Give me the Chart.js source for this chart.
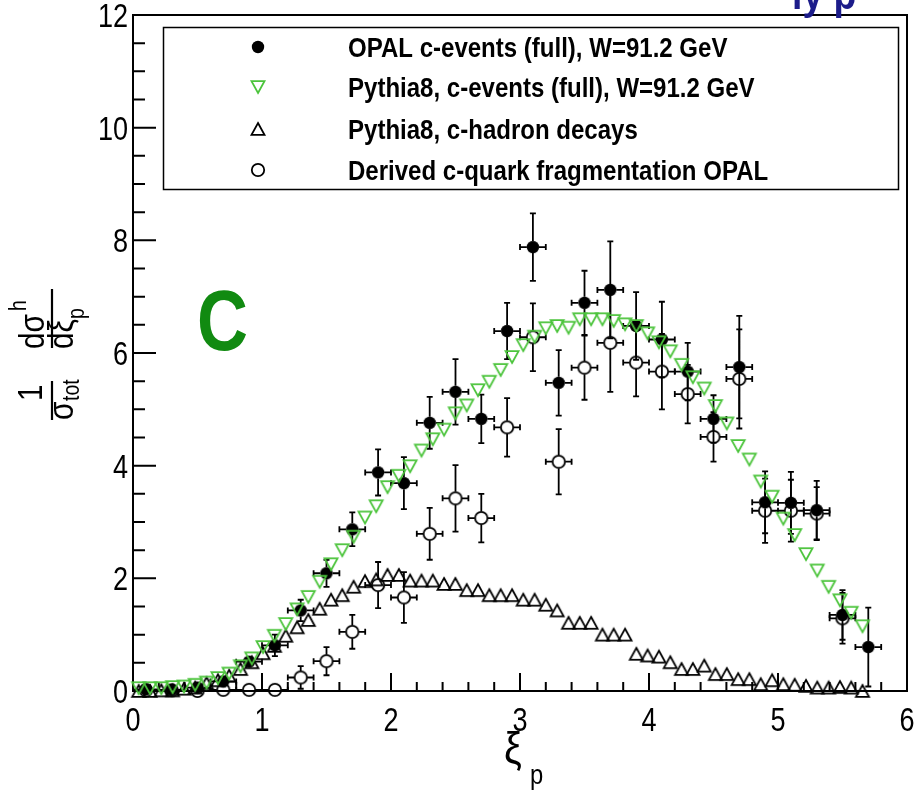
<!DOCTYPE html>
<html><head><meta charset="utf-8">
<script src="https://cdn.jsdelivr.net/npm/chart.js@4/dist/chart.umd.min.js"></script>
<style>html,body{margin:0;padding:0;background:#fff;overflow:hidden}</style>
</head><body>
<canvas id="c" width="922" height="793"></canvas>
<script>
// ---------------- data ----------------
const opalX   = [0.1,0.3,0.5,0.7,0.9,1.1,1.3,1.5,1.7,1.9,2.1,2.3,2.5,2.7,2.9,3.1,3.3,3.5,3.7,3.9,4.1,4.3,4.5,4.7,4.9,5.1,5.3,5.5,5.7];
const opalY   = [0.03,0.02,0.06,0.17,0.52,0.81,1.43,2.09,2.87,3.88,3.69,4.76,5.31,4.83,6.39,7.88,5.47,6.89,7.12,6.48,6.24,5.67,4.83,5.75,3.35,3.34,3.21,1.35,0.78];
const opalErr = [0.08,0.05,0.05,0.06,0.10,0.19,0.19,0.24,0.30,0.41,0.46,0.46,0.58,0.43,0.50,0.60,0.58,0.57,0.86,0.60,0.67,0.51,0.42,0.91,0.55,0.55,0.52,0.44,0.70];
const derivedX   = [0.1,0.3,0.5,0.7,0.9,1.1,1.3,1.5,1.7,1.9,2.1,2.3,2.5,2.7,2.9,3.1,3.3,3.5,3.7,3.9,4.1,4.3,4.5,4.7,4.9,5.1,5.3,5.5];
const derivedY   = [0.01,0.01,0.00,0.02,0.02,0.02,0.24,0.53,1.05,1.88,1.66,2.79,3.42,3.07,4.68,6.28,4.07,5.74,6.18,5.83,5.67,5.27,4.51,5.54,3.20,3.20,3.15,1.29];
const derivedErr = [0.02,0.02,0.03,0.04,0.05,0.06,0.20,0.25,0.30,0.41,0.45,0.46,0.59,0.43,0.52,0.60,0.58,0.57,0.87,0.60,0.67,0.52,0.44,0.88,0.57,0.55,0.47,0.45];
const xHalfWidth = 0.1;
const pythiaX = [0.044,0.132,0.219,0.307,0.395,0.482,0.570,0.658,0.745,0.833,
  0.921,1.008,1.096,1.184,1.272,1.359,1.447,1.535,1.622,1.710,
  1.798,1.885,1.973,2.061,2.148,2.236,2.324,2.411,2.499,2.587,
  2.674,2.762,2.850,2.938,3.025,3.113,3.200,3.288,3.376,3.463,
  3.551,3.639,3.726,3.814,3.902,3.989,4.077,4.165,4.252,4.340,
  4.428,4.515,4.603,4.691,4.778,4.866,4.954,5.041,5.129,5.217,
  5.304,5.392,5.480,5.567,5.655];
const pythiaFullY = [0.05,0.05,0.05,0.07,0.08,0.11,0.15,0.23,0.31,0.44,
  0.58,0.78,0.98,1.19,1.45,1.67,1.94,2.25,2.50,2.74,
  3.08,3.28,3.62,3.82,3.99,4.27,4.47,4.64,4.93,5.07,
  5.34,5.49,5.70,5.93,6.14,6.29,6.44,6.48,6.45,6.60,
  6.60,6.60,6.57,6.51,6.48,6.35,6.19,6.03,5.79,5.57,
  5.37,5.06,4.75,4.35,4.11,3.72,3.45,3.06,2.77,2.43,
  2.14,1.85,1.61,1.39,1.15];
const pythiaDecayY = [0.00,0.00,0.01,0.01,0.04,0.06,0.14,0.19,0.27,0.39,
  0.51,0.67,0.80,0.98,1.13,1.26,1.46,1.62,1.70,1.85,
  1.95,1.98,2.06,2.06,1.96,1.96,1.96,1.90,1.90,1.79,
  1.79,1.70,1.70,1.70,1.62,1.62,1.53,1.43,1.21,1.21,
  1.21,1.00,1.00,1.00,0.66,0.63,0.61,0.51,0.39,0.39,
  0.45,0.30,0.30,0.21,0.21,0.12,0.19,0.12,0.11,0.09,
  0.06,0.06,0.07,0.06,0.00];
const xTicks = [0,1,2,3,4,5,6];
const xTickLabels = ['0','1','2','3','4','5','6'];
const yTicks = [0,2,4,6,8,10,12];
const yTickLabels = ['0','2','4','6','8','10','12'];
const legendLabels = ['OPAL c-events (full), W=91.2 GeV','Pythia8, c-events (full), W=91.2 GeV','Pythia8, c-hadron decays','Derived c-quark fragmentation OPAL'];
const panelLabel = 'C';

// ---------------- styles ----------------
const GREEN = '#4cc43c';
const FONT = '"Liberation Sans", Arial, sans-serif';

function mk(size, draw){ const c=document.createElement('canvas'); c.width=size; c.height=size; const g=c.getContext('2d'); draw(g,size/2); return c; }
const mFilled = mk(16,(g,c)=>{g.fillStyle='#000';g.beginPath();g.arc(c,c,6.2,0,2*Math.PI);g.fill();});
const mOpen = mk(18,(g,c)=>{g.strokeStyle='#000';g.lineWidth=1.8;g.beginPath();g.arc(c,c,6.2,0,2*Math.PI);g.stroke();});
const mUp = mk(18,(g,c)=>{g.strokeStyle='#000';g.lineWidth=1.8;g.beginPath();g.moveTo(c,c-6);g.lineTo(c+6.5,c+5.8);g.lineTo(c-6.5,c+5.8);g.closePath();g.stroke();});
const mDown = mk(18,(g,c)=>{g.strokeStyle=GREEN;g.lineWidth=1.8;g.beginPath();g.moveTo(c,c+6);g.lineTo(c+6.5,c-5.8);g.lineTo(c-6.5,c-5.8);g.closePath();g.stroke();});

const pts = (xs,ys)=>xs.map((x,i)=>({x:x,y:ys[i]}));

function txt(ctx,t,x,y,font,sx,align,rot){
  ctx.save(); ctx.translate(x,y); if(rot) ctx.rotate(rot); ctx.scale(sx,1);
  ctx.font=font; ctx.textAlign=align||'left'; ctx.textBaseline='alphabetic';
  ctx.fillText(t,0,0); ctx.restore();
}

const framePlugin = {
  id:'frame',
  beforeDatasetsDraw(chart){
    const {ctx, chartArea:a, scales:{x,y}} = chart;
    ctx.save();
    ctx.strokeStyle='#000'; ctx.lineWidth=2;
    ctx.strokeRect(a.left, a.top, a.right-a.left, a.bottom-a.top);
    ctx.beginPath();
    for (let k=0;k<=30;k++){ const v=k*0.2; const px=x.getPixelForValue(v); const major=(k%5===0); ctx.moveTo(px,a.bottom); ctx.lineTo(px,a.bottom-(major?18:9)); }
    for (let k=0;k<=24;k++){ const v=k*0.5; const py=y.getPixelForValue(v); const major=(k%4===0); ctx.moveTo(a.left,py); ctx.lineTo(a.left+(major?23:12),py); }
    ctx.stroke();
    // tick labels from the library's ticks
    ctx.fillStyle='#000';
    const tf='33px '+FONT;
    x.ticks.forEach(t=>{ const i=xTicks.indexOf(t.value); if(i<0) return; txt(ctx,xTickLabels[i],x.getPixelForValue(t.value),731,tf,0.82,'center'); });
    y.ticks.forEach(t=>{ const i=yTicks.indexOf(t.value); if(i<0) return; txt(ctx,yTickLabels[i],128,y.getPixelForValue(t.value)+12,tf,0.82,'right'); });
    // error bars
    ctx.beginPath(); ctx.rect(a.left,a.top,a.right-a.left,a.bottom-a.top); ctx.clip();
    ctx.lineWidth=1.8; ctx.strokeStyle='#000';
    const drawErr=(xs,ys,es,r)=>{
      ctx.beginPath();
      for (let i=0;i<xs.length;i++){
        const px=x.getPixelForValue(xs[i]), py=y.getPixelForValue(ys[i]);
        const pt=y.getPixelForValue(ys[i]+es[i]), pb=y.getPixelForValue(ys[i]-es[i]);
        const pl=x.getPixelForValue(xs[i]-xHalfWidth), pr=x.getPixelForValue(xs[i]+xHalfWidth);
        if (pt<py-r){ ctx.moveTo(px,py-r); ctx.lineTo(px,pt); ctx.moveTo(px-3,pt); ctx.lineTo(px+3,pt); }
        if (pb>py+r){ ctx.moveTo(px,py+r); ctx.lineTo(px,pb); ctx.moveTo(px-3,pb); ctx.lineTo(px+3,pb); }
        ctx.moveTo(px-r,py); ctx.lineTo(pl,py); ctx.moveTo(pl,py-3); ctx.lineTo(pl,py+3);
        ctx.moveTo(px+r,py); ctx.lineTo(pr,py); ctx.moveTo(pr,py-3); ctx.lineTo(pr,py+3);
      }
      ctx.stroke();
    };
    drawErr(opalX,opalY,opalErr,6);
    drawErr(derivedX,derivedY,derivedErr,6.5);
    ctx.restore();
  }
};

const textPlugin = {
  id:'texts',
  afterDatasetsDraw(chart){
    const {ctx} = chart;
    ctx.save();
    // legend
    ctx.strokeStyle='#000'; ctx.lineWidth=1.5;
    ctx.strokeRect(163.5,27.5,735,162);
    const rows=[47,87,129,170], marks=[mFilled,mDown,mUp,mOpen];
    ctx.fillStyle='#000';
    for (let i=0;i<4;i++){
      ctx.drawImage(marks[i],258-marks[i].width/2,rows[i]-marks[i].height/2);
      txt(ctx,legendLabels[i],348,rows[i]+10,'bold 27px '+FONT,0.89,'left');
    }
    // panel label
    ctx.fillStyle='#118a11';
    txt(ctx,panelLabel,197,350,'bold 86px '+FONT,0.82,'left');
    // clipped blue title fragment (title above the visible area)
    ctx.fillStyle='#1c1c8a';
    txt(ctx,'ly p',792,9,'bold 44px '+FONT,0.85,'left');
    // x title
    ctx.fillStyle='#000';
    txt(ctx,'\u03be',504,763,'44px '+FONT,0.9,'left');
    txt(ctx,'p',530,784,'28px '+FONT,0.85,'left');
    // y title (rotated)
    const R=-Math.PI/2;
    const big='35px '+FONT, small='23px '+FONT;
    ctx.lineWidth=2.2;
    ctx.beginPath(); ctx.moveTo(52,381); ctx.lineTo(52,420); ctx.moveTo(52,289); ctx.lineTo(52,348); ctx.stroke();
    txt(ctx,'1',42,401,big,0.85,'left',R);
    txt(ctx,'\u03c3',73,420,big,0.85,'left',R);
    txt(ctx,'tot',79,401,small,0.85,'left',R);
    txt(ctx,'d\u03c3',44,349,big,0.85,'left',R);
    txt(ctx,'h',26,311,small,0.85,'left',R);
    txt(ctx,'d\u03be',73,349,big,0.85,'left',R);
    txt(ctx,'p',84,319,small,0.85,'left',R);
    ctx.restore();
  }
};

new Chart(document.getElementById('c'), {
  type:'scatter',
  data:{ datasets:[
    {label:legendLabels[1], data:pts(pythiaX,pythiaFullY), pointStyle:mDown, pointRadius:6, clip:false},
    {label:legendLabels[2], data:pts(pythiaX,pythiaDecayY), pointStyle:mUp, pointRadius:6, clip:false},
    {label:legendLabels[3], data:pts(derivedX,derivedY), pointStyle:mOpen, pointRadius:6, clip:false},
    {label:legendLabels[0], data:pts(opalX,opalY), pointStyle:mFilled, pointRadius:6, clip:false}
  ]},
  options:{
    responsive:false, animation:false, devicePixelRatio:1,
    layout:{padding:{left:0,right:15,top:15,bottom:0}},
    plugins:{legend:{display:false}, tooltip:{enabled:false}},
    scales:{
      x:{type:'linear', min:0, max:6, grid:{display:false, drawTicks:false}, border:{display:false},
         afterBuildTicks:s=>{s.ticks=xTicks.map(v=>({value:v}));},
         ticks:{display:false, autoSkip:false},
         afterFit:s=>{s.height=102;}},
      y:{type:'linear', min:0, max:12, grid:{display:false, drawTicks:false}, border:{display:false},
         afterBuildTicks:s=>{s.ticks=yTicks.map(v=>({value:v}));},
         ticks:{display:false, autoSkip:false},
         afterFit:s=>{s.width=133;}}
    }
  },
  plugins:[framePlugin,textPlugin]
});
</script>
</body></html>
